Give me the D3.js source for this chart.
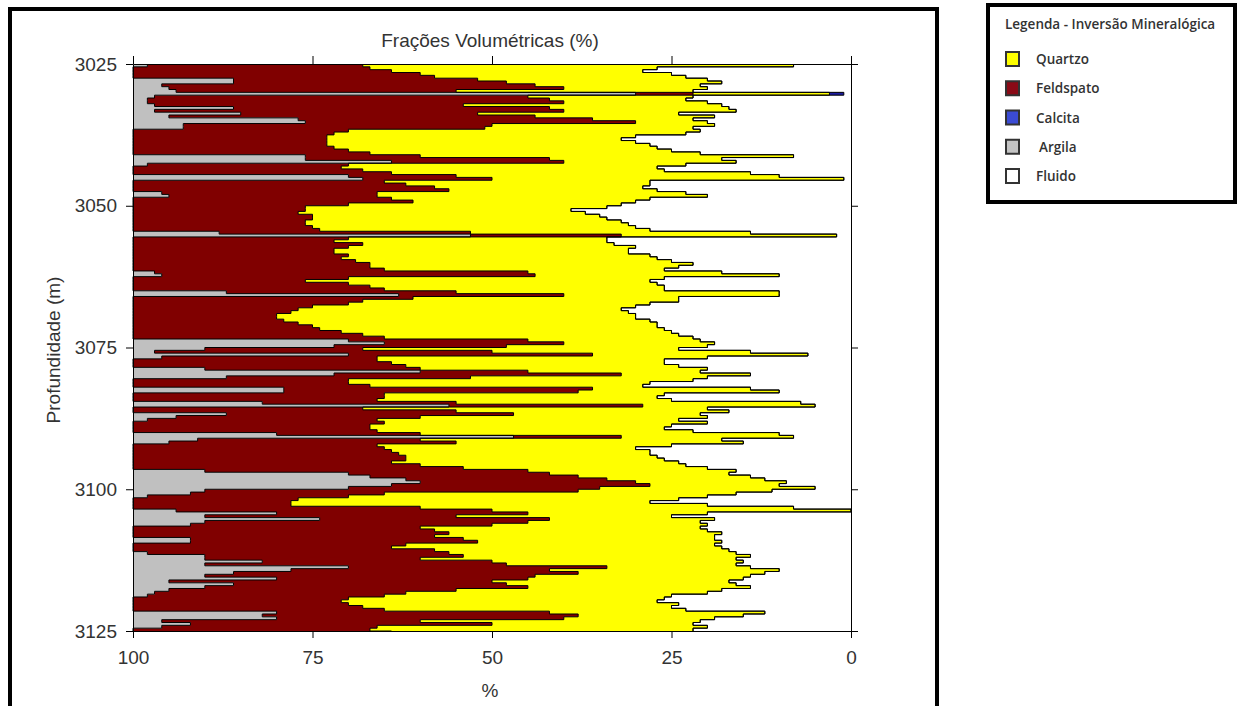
<!DOCTYPE html>
<html>
<head>
<meta charset="utf-8">
<script src="https://cdn.jsdelivr.net/npm/d3@7"></script>
<style>
  body { margin: 0; background: #fff; }
  .axis text { font-family: "Liberation Sans", Arial, sans-serif; font-size: 19px; fill: #333; }
  .axis path, .axis line { stroke: #000; }
</style>
</head>
<body>
<div id="d3draw"></div>
<script>
// fractions (%) every 0.5 m, 3025 m to 3125 m
var argila = [
  2,0,0,0,0,14,14,4,5,6,
  70,3,2,2,3,14,3,15,5,23,
  24,7,7,0,0,0,0,0,0,0,
  0,0,24,24,36,2,0,0,0,30,
  32,0,0,0,0,4,5,0,0,0,
  0,0,0,0,0,0,0,0,0,12,
  47,0,0,0,0,0,0,0,0,0,
  0,0,0,3,4,0,0,0,0,0,
  13,37,0,0,0,0,0,0,0,0,
  0,0,0,0,0,0,0,30,35,28,
  10,3,30,4,0,0,0,10,40,28,
  13,0,0,0,21,21,0,0,0,18,
  44,0,0,13,6,2,0,0,0,0,
  20,53,9,5,0,0,0,0,0,0,
  0,0,0,10,30,33,38,40,36,30,
  10,8,2,0,0,0,0,6,20,10,
  26,10,8,0,0,0,0,8,8,0,
  0,0,2,10,10,18,10,30,22,14,
  10,20,5,14,10,5,3,2,0,0,
  0,0,0,20,18,20,4,8,4,0,
  0
];
var feldspato = [
  30,33,36,40,42,34,38,52,55,39,
  8,52,56,58,43,44,57,33,51,41,
  46,43,42,30,28,27,27,27,27,28,
  30,33,16,34,24,28,29,32,36,15,
  18,35,38,42,44,30,29,36,39,30,
  24,24,23,25,25,24,24,25,26,35,
  21,30,28,32,30,28,28,30,29,31,
  33,33,35,52,52,30,24,30,33,35,
  32,23,39,32,30,25,23,22,20,20,
  21,23,25,26,29,32,35,25,25,24,
  22,47,34,30,34,36,38,30,15,40,
  34,30,30,33,43,41,35,35,34,27,
  27,32,45,40,34,32,35,33,33,34,
  20,15,31,40,34,35,36,37,38,38,
  36,40,46,45,28,29,28,30,36,35,
  52,27,28,23,22,22,40,44,35,35,
  32,45,42,40,42,44,42,38,40,38,
  36,42,42,36,30,32,42,36,36,48,
  46,35,45,38,45,40,35,33,30,29,
  30,32,35,38,44,40,36,42,30,33,
  36
];
var quartzo = [
  60,40,35,35,35,32,30,23,20,33,
  19,23,19,20,36,25,24,28,25,14,
  10,31,29,49,49,43,41,43,45,45,
  45,46,52,24,24,47,44,42,50,45,
  49,37,34,29,29,43,46,36,31,38,
  42,37,40,40,41,44,45,45,46,39,
  30,36,38,35,40,41,41,42,44,44,
  45,43,39,27,34,44,48,43,41,39,
  45,30,37,44,42,45,45,47,50,50,
  51,50,48,48,46,44,43,24,21,28,
  44,36,30,46,40,38,38,40,24,18,
  33,48,42,38,22,28,39,38,41,48,
  24,48,38,26,40,42,45,42,41,44,
  50,24,42,40,41,35,36,35,35,36,
  40,37,34,29,25,24,22,21,18,30,
  27,49,50,53,50,58,52,50,25,30,
  23,24,30,39,38,38,39,35,34,43,
  46,41,40,40,44,35,32,20,32,26,
  30,30,33,32,31,37,42,40,44,44,
  46,43,42,30,23,21,39,28,46,45,
  42
];
var calcita = [
  0,0,0,0,0,0,0,0,0,0,
  2,0,0,0,0,0,0,0,0,0,
  0,0,0,0,0,0,0,0,0,0,
  0,0,0,0,0,0,0,0,0,0,
  0,0,0,0,0,0,0,0,0,0,
  0,0,0,0,0,0,0,0,0,0,
  0,0,0,0,0,0,0,0,0,0,
  0,0,0,0,0,0,0,0,0,0,
  0,0,0,0,0,0,0,0,0,0,
  0,0,0,0,0,0,0,0,0,0,
  0,0,0,0,0,0,0,0,0,0,
  0,0,0,0,0,0,0,0,0,0,
  0,0,0,0,0,0,0,0,0,0,
  0,0,0,0,0,0,0,0,0,0,
  0,0,0,0,0,0,0,0,0,0,
  0,0,0,0,0,0,0,0,0,0,
  0,0,0,0,0,0,0,0,0,0,
  0,0,0,0,0,0,0,0,0,0,
  0,0,0,0,0,0,0,0,0,0,
  0,0,0,0,0,0,0,0,0,0,
  0
];
var fluido = [
  8,27,29,25,23,20,18,21,20,22,
  1,22,23,20,18,17,16,24,19,22,
  20,19,22,21,23,30,32,30,28,27,
  25,21,8,18,16,23,27,26,14,10,
  1,28,28,29,27,23,20,28,30,32,
  34,39,37,35,34,32,31,30,28,14,
  2,34,34,33,30,31,31,28,27,25,
  22,24,26,18,10,26,28,27,26,26,
  10,10,24,24,28,30,32,31,30,30,
  28,27,27,26,25,24,22,21,19,20,
  24,14,6,20,26,26,24,20,21,14,
  20,22,28,29,14,10,26,27,25,7,
  5,20,17,21,20,24,20,25,26,22,
  10,8,18,15,25,30,28,28,27,26,
  24,23,20,16,17,14,12,9,10,5,
  11,16,20,24,28,20,8,0,20,25,
  19,21,20,21,20,18,19,19,18,19,
  18,17,16,14,16,15,16,14,10,12,
  14,15,17,16,14,18,20,25,26,27,
  24,25,23,12,15,19,21,22,20,22,
  22
];
var depth = argila.map(function(v, i) { return 3025 + i * 0.5; });

var depthTicks = [3025, 3050, 3075, 3100, 3125];
var pctTicks = [100, 75, 50, 25, 0];

var legendNames = ['Quartzo', 'Feldspato', 'Calcita', 'Argila', 'Fluido'];
var legendColors = ['#ffff00', '#8a0a16', '#3b4bd4', '#c4c4c4', '#ffffff'];

var svg = d3.select('#d3draw')
  .append('svg')
    .attr('width', 1243)
    .attr('height', 706)
    .style('background', '#fff');

var x = d3.scaleLinear().domain([0, 100]).range([851, 133]);
var y = d3.scaleLinear().domain([3025, 3125]).range([64, 631]);

var rows = depth.map(function(d, i) {
  return { depth: d, fluido: fluido[i], calcita: calcita[i], quartzo: quartzo[i],
           feldspato: feldspato[i], argila: argila[i] };
});
var keys = ['fluido', 'calcita', 'quartzo', 'feldspato', 'argila'];
var fills = { fluido: '#ffffff', calcita: '#1c1ca0', quartzo: '#ffff00', feldspato: '#800000', argila: '#c0c0c0' };
var series = d3.stack().keys(keys)(rows);

var area = d3.area()
  .curve(d3.curveStepBefore)
  .y(function(d) { return y(d.data.depth); })
  .x0(function(d) { return x(d[0]); })
  .x1(function(d) { return x(d[1]); });

svg.append('g')
  .selectAll('path')
  .data(series)
  .enter().append('path')
    .attr('d', area)
    .style('fill', function(d) { return fills[d.key]; });

// black outline along each boundary
var edge = d3.line()
  .curve(d3.curveStepBefore)
  .y(function(d) { return y(d.data.depth); })
  .x(function(d) { return x(d[1]); });

svg.append('g')
  .selectAll('path')
  .data(series.slice(0, 4))
  .enter().append('path')
    .attr('d', edge)
    .style('fill', 'none')
    .style('stroke', '#000')
    .style('stroke-width', 1);

svg.append('g')
  .attr('class', 'axis')
  .attr('transform', 'translate(0,64)')
  .call(d3.axisTop(x).tickValues(pctTicks).tickSize(8).tickSizeOuter(0).tickFormat(''));

svg.append('g')
  .attr('class', 'axis')
  .attr('transform', 'translate(0,631)')
  .call(d3.axisBottom(x).tickValues(pctTicks).tickSize(7).tickSizeOuter(0).tickPadding(13));

svg.append('g')
  .attr('class', 'axis')
  .attr('transform', 'translate(133,0)')
  .call(d3.axisLeft(y).tickValues(depthTicks).tickSize(7).tickSizeOuter(0).tickPadding(9).tickFormat(d3.format('d')));

svg.append('g')
  .attr('class', 'axis')
  .attr('transform', 'translate(851,0)')
  .call(d3.axisRight(y).tickValues(depthTicks).tickSize(7).tickSizeOuter(0).tickFormat(''));

svg.append('text')
  .attr('x', 490)
  .attr('y', 47)
  .attr('text-anchor', 'middle')
  .style('font-family', 'Liberation Sans, Arial, sans-serif')
  .style('font-size', '19px')
  .style('fill', '#333')
  .text('Frações Volumétricas (%)');

svg.append('text')
  .attr('transform', 'translate(60,350) rotate(-90)')
  .attr('text-anchor', 'middle')
  .style('font-family', 'Liberation Sans, Arial, sans-serif')
  .style('font-size', '19px')
  .style('fill', '#333')
  .text('Profundidade (m)');

svg.append('text')
  .attr('x', 490)
  .attr('y', 697)
  .attr('text-anchor', 'middle')
  .style('font-family', 'Liberation Sans, Arial, sans-serif')
  .style('font-size', '19px')
  .style('fill', '#333')
  .text('%');

// outer frame
svg.append('rect')
  .attr('x', 10)
  .attr('y', 9)
  .attr('width', 927)
  .attr('height', 720)
  .style('fill', 'none')
  .style('stroke', '#000')
  .style('stroke-width', 4);

// legend
var legend = svg.append('g');
legend.append('rect')
  .attr('x', 988)
  .attr('y', 5)
  .attr('width', 247)
  .attr('height', 197)
  .style('fill', '#fff')
  .style('stroke', '#000')
  .style('stroke-width', 4);

legend.append('text')
  .attr('x', 1005)
  .attr('y', 29)
  .style('font-family', 'Open Sans, sans-serif')
  .style('font-size', '13.5px')
  .style('font-weight', 600)
  .style('fill', '#333')
  .text('Legenda - Inversão Mineralógica');

var legendY = d3.scalePoint().domain(legendNames).range([59, 176]);

legend.selectAll('rect.sw')
  .data(legendNames)
  .enter().append('rect')
    .attr('class', 'sw')
    .attr('x', 1006)
    .attr('y', function(d) { return legendY(d) - 7; })
    .attr('width', 13)
    .attr('height', 14)
    .style('fill', function(d, i) { return legendColors[i]; })
    .style('stroke', '#333')
    .style('stroke-width', 2);

legend.selectAll('text.lb')
  .data(legendNames)
  .enter().append('text')
    .attr('class', 'lb')
    .attr('x', function(d) { return d === 'Argila' ? 1039 : 1036; })
    .attr('y', function(d) { return legendY(d) + 5; })
    .style('font-family', 'Open Sans, sans-serif')
    .style('font-size', '13.5px')
    .style('font-weight', 600)
    .style('fill', '#333')
    .text(function(d) { return d; });
</script>
</body>
</html>
